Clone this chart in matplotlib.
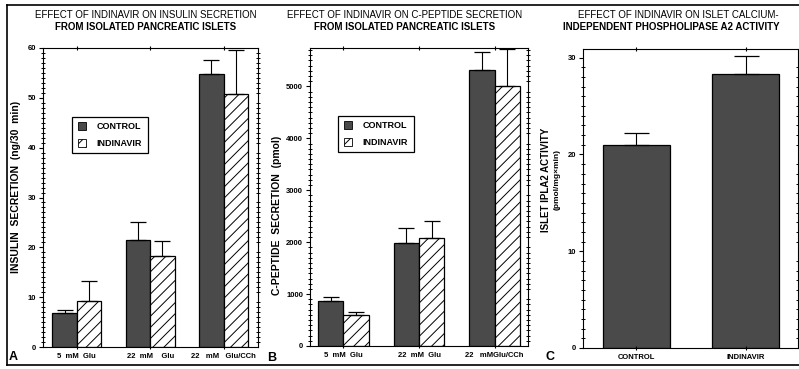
import matplotlib
matplotlib.use("Agg")
import matplotlib.pyplot as plt
from matplotlib.lines import Line2D
from matplotlib.patches import Patch
from matplotlib.ticker import MultipleLocator
import numpy as np

plt.rcParams["font.family"] = ["Liberation Sans", "DejaVu Sans"]
plt.rcParams["hatch.linewidth"] = 0.7

# panel A: insulin secretion (ng/30 min)
groups_a = ["5  mM  Glu", "22  mM    Glu", "22   mM   Glu/CCh"]
insulin_control = [6.8, 21.5, 54.7]
insulin_control_top = [7.5, 25.1, 57.5]
insulin_indinavir = [9.3, 18.2, 50.8]
insulin_indinavir_top = [13.3, 21.2, 59.5]

# panel B: C-peptide secretion (pmol)
groups_b = ["5  mM  Glu", "22  mM  Glu", "22   mMGlu/CCh"]
cpep_control = [870, 1980, 5310]
cpep_control_top = [950, 2280, 5655]
cpep_indinavir = [600, 2080, 5000]
cpep_indinavir_top = [660, 2400, 5720]

# panel C: islet iPLA2 activity
groups_c = ["CONTROL", "INDINAVIR"]
ipla2_values = [21.0, 28.3]
ipla2_top = [22.2, 30.2]

DARK = "#4a4a4a"
W, H = 799, 369


def fx(px):
    return px / W


def fy(py):
    return 1 - py / H


def style_axis(ax, ymajor, yminor):
    ax.yaxis.set_major_locator(MultipleLocator(ymajor))
    ax.yaxis.set_minor_locator(MultipleLocator(yminor))
    ax.tick_params(axis="y", which="major", direction="out", length=3, width=0.8,
                   labelsize=5.5, pad=2)
    ax.tick_params(axis="y", which="minor", direction="inout", length=3, width=0.7,
                   left=True, right=True)
    ax.tick_params(axis="x", which="major", direction="inout", length=3, width=0.8,
                   top=True, labelsize=5.5, pad=3)
    for lab in ax.get_xticklabels() + ax.get_yticklabels():
        lab.set_fontweight("bold")
    for sp in ax.spines.values():
        sp.set_linewidth(0.8)


def grouped_bars(ax, control, control_top, indinavir, indinavir_top, labels):
    x = np.arange(len(labels))
    w = 0.333
    ax.bar(x - w / 2, control, w, color=DARK, edgecolor="black", linewidth=0.9)
    ax.bar(x + w / 2, indinavir, w, color="white", edgecolor="black", linewidth=0.9,
           hatch="///")
    err_c = np.array(control_top) - np.array(control)
    err_i = np.array(indinavir_top) - np.array(indinavir)
    ax.errorbar(x - w / 2, control, yerr=[np.zeros(len(x)), err_c], fmt="none",
                ecolor="black", elinewidth=0.8, capsize=6, capthick=0.9)
    ax.errorbar(x + w / 2, indinavir, yerr=[np.zeros(len(x)), err_i], fmt="none",
                ecolor="black", elinewidth=0.8, capsize=6, capthick=0.9)
    ax.set_xticks(x)
    ax.set_xticklabels(labels)


def add_legend(ax, box):
    handles = [
        Patch(facecolor=DARK, edgecolor="black", linewidth=0.6, label="CONTROL"),
        Patch(facecolor="white", edgecolor="black", linewidth=0.6, hatch="///",
              label="INDINAVIR"),
    ]
    leg = ax.legend(handles=handles, loc="center", bbox_to_anchor=box,
                    bbox_transform=plt.gcf().transFigure, fancybox=False,
                    edgecolor="black", framealpha=1, handlelength=0.9,
                    handleheight=0.9, handletextpad=1.2, labelspacing=0.9,
                    borderpad=0.6, prop={"size": 6.5, "weight": "bold"})
    leg.get_frame().set_linewidth(0.9)


fig = plt.figure(figsize=(W / 100, H / 100), dpi=100)
fig.patch.set_facecolor("white")

# panel A
ax_a = fig.add_axes([fx(43), fy(347), fx(258 - 43), (347 - 48) / H])
grouped_bars(ax_a, insulin_control, insulin_control_top, insulin_indinavir,
             insulin_indinavir_top, groups_a)
ax_a.set_xlim(-0.46, 2.47)
ax_a.set_ylim(0, 60)
style_axis(ax_a, 10, 1)
ax_a.set_ylabel("INSULIN  SECRETION  (ng/30  min)", fontsize=7.5, fontweight="bold")
ax_a.yaxis.set_label_coords(-0.10, 0.535)
add_legend(ax_a, (fx(110), fy(135)))

# panel B
ax_b = fig.add_axes([fx(310), fy(346), fx(528 - 310), (346 - 48) / H])
grouped_bars(ax_b, cpep_control, cpep_control_top, cpep_indinavir,
             cpep_indinavir_top, groups_b)
ax_b.set_xlim(-0.44, 2.44)
ax_b.set_ylim(0, 5740)
style_axis(ax_b, 1000, 100)
ax_b.set_ylabel("C-PEPTIDE  SECRETION  (pmol)", fontsize=7.5, fontweight="bold")
ax_b.yaxis.set_label_coords(-0.128, 0.44)
add_legend(ax_b, (fx(376), fy(134)))

# panel C
ax_c = fig.add_axes([fx(583), fy(348), fx(798 - 583), (348 - 49) / H])
xc = np.arange(len(groups_c))
ax_c.bar(xc, ipla2_values, 0.61, color=DARK, edgecolor="black", linewidth=0.9)
ax_c.errorbar(xc, ipla2_values,
              yerr=[np.zeros(len(xc)), np.array(ipla2_top) - np.array(ipla2_values)],
              fmt="none", ecolor="black", elinewidth=0.8, capsize=9, capthick=0.9)
ax_c.set_xticks(xc)
ax_c.set_xticklabels(groups_c)
ax_c.set_xlim(-0.49, 1.48)
ax_c.set_ylim(0, 30.9)
style_axis(ax_c, 10, 1)
fig.text(fx(546), fy(180), "ISLET IPLA2 ACTIVITY", rotation=90, ha="center",
         va="center", fontsize=7, fontweight="bold")
fig.text(fx(557), fy(180), "(pmol/mg×min)", rotation=90, ha="center", va="center",
         fontsize=6, fontweight="bold")

# titles
title_kw = dict(ha="center", va="center", fontsize=7)
fig.text(fx(146), fy(15), "EFFECT OF INDINAVIR ON INSULIN SECRETION", **title_kw)
fig.text(fx(146), fy(27), "FROM ISOLATED PANCREATIC ISLETS", fontweight="bold",
         **title_kw)
fig.text(fx(405), fy(15), "EFFECT OF INDINAVIR ON C-PEPTIDE SECRETION", **title_kw)
fig.text(fx(405), fy(27), "FROM ISOLATED PANCREATIC ISLETS", fontweight="bold",
         **title_kw)
fig.text(fx(678), fy(15), "EFFECT OF INDINAVIR ON ISLET CALCIUM-", **title_kw)
fig.text(fx(563), fy(27), "INDEPENDENT PHOSPHOLIPASE A2 ACTIVITY", ha="left",
         va="center", fontsize=7, fontweight="bold")

# panel letters
fig.text(fx(9), fy(357), "A", ha="left", va="center", fontsize=9, fontweight="bold")
fig.text(fx(267), fy(358), "B", ha="left", va="center", fontsize=9, fontweight="bold")
fig.text(fx(545), fy(357), "C", ha="left", va="center", fontsize=9, fontweight="bold")

# outer frame
for xs, ys in [((7, W), (5, 5)), ((7, 7), (5, 365)), ((7, W), (365, 365))]:
    fig.add_artist(Line2D([fx(v) for v in xs], [fy(v) for v in ys],
                          transform=fig.transFigure, color="black", linewidth=1.2))

fig.savefig("out.png", dpi=100)
